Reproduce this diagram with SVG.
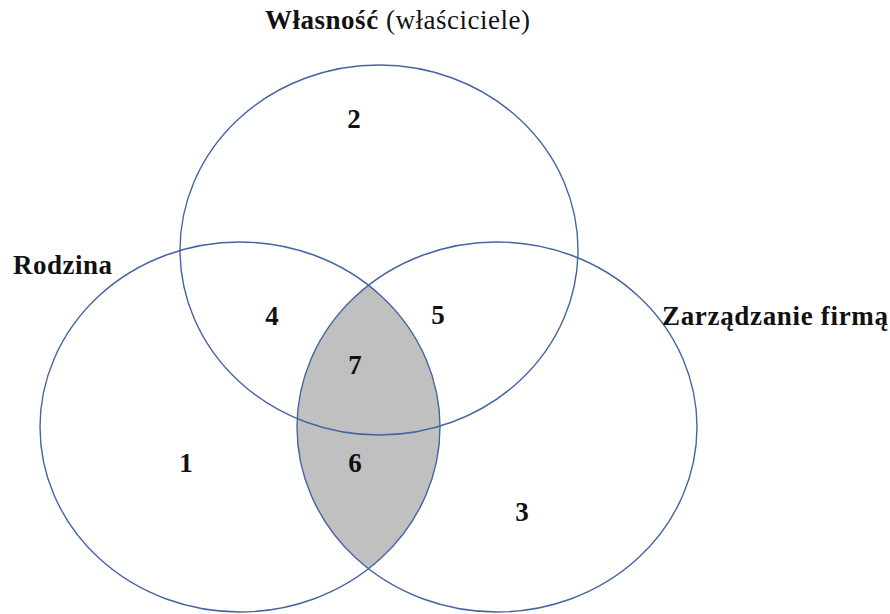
<svg xmlns="http://www.w3.org/2000/svg" width="890" height="614" viewBox="0 0 890 614">
<style>
.c{fill:none;stroke:#4465a2;stroke-width:1.4}
.t{font-family:"Liberation Serif","Times New Roman",serif;font-size:27px;fill:#111}
.b{font-weight:bold}
.n{font-family:"Liberation Serif","Times New Roman",serif;font-size:27px;fill:#111;text-anchor:middle;font-weight:bold}
</style>
<rect width="890" height="614" fill="#fff"/>
<g id="lens">
<path d="M368.5 285.2 A200 185 0 0 0 368.5 568.8 A200 185 0 0 0 368.5 285.2 Z" fill="#c0c0c0"/>
</g>
<g id="wlasnosc">
<ellipse class="c" cx="379" cy="250" rx="199" ry="185"/>
<text class="t" x="265" y="29" textLength="265"><tspan class="b">Własność</tspan> (właściciele)</text>
</g>
<g id="rodzina">
<ellipse class="c" cx="240" cy="427" rx="200" ry="185"/>
<text class="t b" x="13" y="274" textLength="99">Rodzina</text>
</g>
<g id="zarzadzanie">
<ellipse class="c" cx="497" cy="427" rx="200" ry="185"/>
<text class="t b" x="662" y="325" textLength="226">Zarządzanie firmą</text>
</g>
<g id="numbers">
<text class="n" x="354" y="128">2</text>
<text class="n" x="272" y="325">4</text>
<text class="n" x="438" y="324">5</text>
<text class="n" x="355" y="374" font-weight="normal">7</text>
<text class="n" x="355" y="472" font-weight="normal">6</text>
<text class="n" x="186" y="472">1</text>
<text class="n" x="522" y="521">3</text>
</g>
</svg>
